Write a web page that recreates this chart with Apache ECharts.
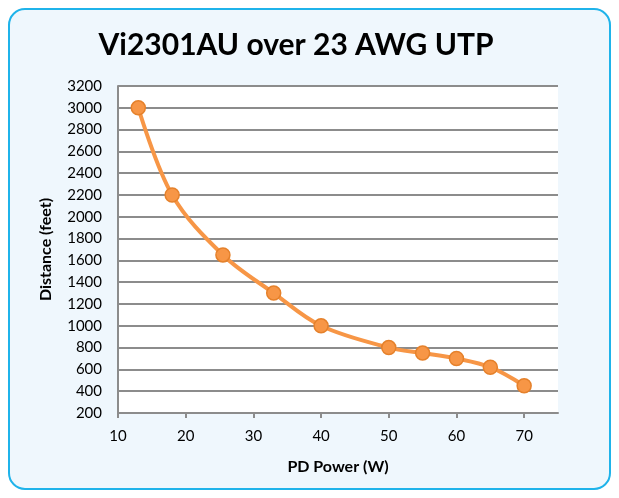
<!DOCTYPE html>
<html>
<head>
<meta charset="utf-8">
<script src="https://cdn.jsdelivr.net/npm/echarts@6/dist/echarts.min.js"></script>
<style>
html, body { margin: 0; padding: 0; background: #ffffff; }
#chart { width: 619px; height: 498px; }
</style>
</head>
<body>
<div id="chart"></div>
<script>
var titleText = 'Vi2301AU over 23 AWG UTP';
var powerW = [13, 18, 25.5, 33, 40, 50, 55, 60, 65, 70];
var distanceFt = [3000, 2200, 1650, 1300, 1000, 800, 750, 700, 620, 450];
var xTicks = [10, 20, 30, 40, 50, 60, 70];

var fontFam = 'Lato, "Open Sans", sans-serif';

var chart = echarts.init(document.getElementById('chart'));

var points = [];
for (var i = 0; i < powerW.length; i++) {
    points.push([powerW[i], distanceFt[i]]);
}

var option = {
    animation: false,
    backgroundColor: '#ffffff',
    graphic: [{
        type: 'rect',
        z: -10,
        shape: { x: 9, y: 9, width: 601, height: 480, r: 16 },
        style: { fill: '#eff7fd', stroke: '#1fb3ea', lineWidth: 2 }
    }],
    title: {
        text: titleText,
        left: 291,
        textAlign: 'center',
        top: 25,
        textStyle: { fontFamily: fontFam, fontSize: 30, fontWeight: 'bold', color: '#000' }
    },
    grid: {
        left: 118,
        right: 61,
        top: 86,
        bottom: 85,
        show: true,
        backgroundColor: '#ffffff',
        borderWidth: 0
    },
    xAxis: {
        type: 'value',
        min: 10,
        max: 75,
        interval: 10,
        name: 'PD Power (W)',
        nameLocation: 'middle',
        nameGap: 46,
        nameTextStyle: { fontFamily: fontFam, fontSize: 16, fontWeight: 'bold', color: '#000' },
        axisLine: { lineStyle: { color: '#8c8c8c', width: 2 } },
        axisTick: { show: true, inside: false, length: 5, customValues: xTicks, lineStyle: { color: '#8c8c8c', width: 2 } },
        axisLabel: {
            fontFamily: fontFam, fontSize: 15, color: '#000', margin: 16,
            formatter: function (v) { return v > 70 ? '' : String(v); }
        },
        splitLine: { show: false }
    },
    yAxis: {
        type: 'value',
        min: 200,
        max: 3200,
        interval: 200,
        name: 'Distance (feet)',
        nameLocation: 'middle',
        nameGap: 64,
        nameTextStyle: { fontFamily: fontFam, fontSize: 16, fontWeight: 'bold', color: '#000' },
        axisLine: { show: true, lineStyle: { color: '#8c8c8c', width: 2 } },
        axisTick: { show: false },
        axisLabel: {
            fontFamily: fontFam, fontSize: 15, color: '#000', margin: 16,
            formatter: function (v) { return String(v); }
        },
        splitLine: { show: true, lineStyle: { color: '#8c8c8c', width: 2 } }
    },
    series: [{
        type: 'line',
        data: points,
        smooth: 0.35,
        symbol: 'circle',
        symbolSize: 14,
        lineStyle: { color: '#f79646', width: 4 },
        itemStyle: { color: '#f79646', borderColor: '#e5812b', borderWidth: 1.5 }
    }]
};

chart.setOption(option);
</script>
</body>
</html>
